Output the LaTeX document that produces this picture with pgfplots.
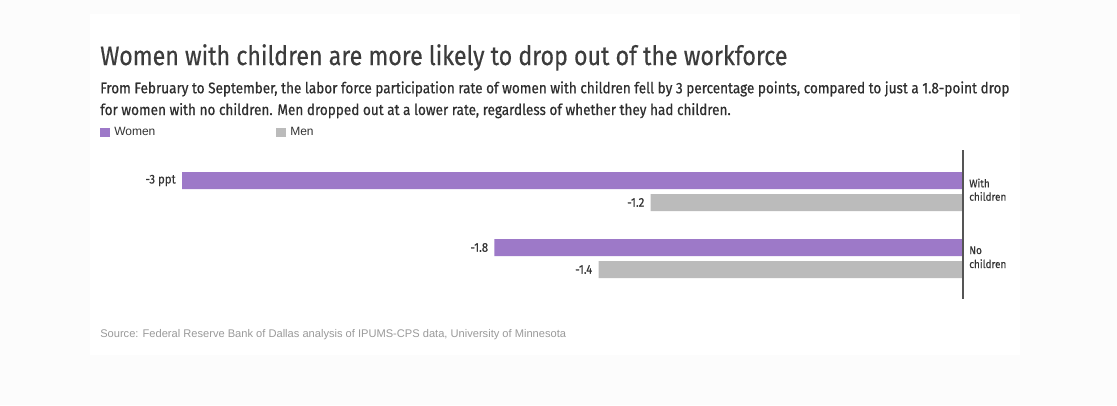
\documentclass[border=0pt]{standalone}
\usepackage{pgfplots}
\pgfplotsset{compat=1.18}
\usepackage{fontspec}
\setmainfont{Liberation Sans}
\newfontfamily\barlow{Fira Sans}
\newfontfamily\barlowc{Fira Sans}[FakeStretch=0.87, FakeBold=0.4]
\newfontfamily\barlowm{Fira Sans}[FakeStretch=0.884, FakeBold=0.5]
\newfontfamily\barlowv{Fira Sans}[FakeStretch=0.9, FakeBold=0.3]
\definecolor{purp}{HTML}{9D79C8}
\definecolor{mgray}{HTML}{BBBBBB}
\definecolor{bgc}{HTML}{FCFCFC}
\definecolor{titlec}{HTML}{3C3C3C}
\definecolor{subc}{HTML}{2E2E2E}
\definecolor{labc}{HTML}{333333}
\definecolor{srcc}{HTML}{9A9A9A}
\definecolor{axc}{HTML}{555555}

\begin{document}
\begin{tikzpicture}
\begin{scope}[x=0.75pt,y=-0.75pt]
\fill[bgc] (0,0) rectangle (1117,405);
\fill[white] (90,14) rectangle (1020,355);
% title and subtitle
\node[anchor=base west, inner sep=0pt, text=titlec, font=\barlowc\fontsize{20}{24}\selectfont] at (100,65) {Women with children are more likely to drop out of the workforce};
\node[anchor=base west, inner sep=0pt, text=subc, font=\barlowm\fontsize{11.5}{14}\selectfont] at (100,93.3) {From February to September, the labor force participation rate of women with children fell by 3 percentage points, compared to just a 1.8-point drop};
\node[anchor=base west, inner sep=0pt, text=subc, font=\barlowm\fontsize{11.5}{14}\selectfont] at (100,115) {for women with no children. Men dropped out at a lower rate, regardless of whether they had children.};
% legend
\fill[purp] (100,127.5) rectangle (110,136.5);
\node[anchor=base west, inner sep=0pt, text=labc, font=\fontsize{9}{11}\selectfont] at (114,135.7) {Women};
\fill[mgray] (276,127.5) rectangle (286,136.5);
\node[anchor=base west, inner sep=0pt, text=labc, font=\fontsize{9}{11}\selectfont] at (290,135.7) {Men};
% category labels
\node[anchor=base west, inner sep=0pt, text=labc, font=\barlowv\fontsize{8.3}{10}\selectfont] at (969,187.3) {With};
\node[anchor=base west, inner sep=0pt, text=labc, font=\barlowv\fontsize{8.3}{10}\selectfont] at (969,200.7) {children};
\node[anchor=base west, inner sep=0pt, text=labc, font=\barlowv\fontsize{8.3}{10}\selectfont] at (969,254) {No};
\node[anchor=base west, inner sep=0pt, text=labc, font=\barlowv\fontsize{8.3}{10}\selectfont] at (969,268) {children};
% source
\node[anchor=base west, inner sep=0pt, text=srcc, font=\fontsize{8.33}{10}\selectfont] at (100,337.5) {Source: Federal Reserve Bank of Dallas analysis of IPUMS-CPS data, University of Minnesota};
\end{scope}

\begin{axis}[
    at={(136.5pt,-112.5pt)}, anchor=north west,
    scale only axis, width=585.75pt, height=111.75pt,
    xmin=-3, xmax=0, ymin=150, ymax=299, y dir=reverse,
    axis lines=none, ticks=none, clip=false,
    xbar, bar width=12.75pt, bar shift=0pt,
    nodes near coords, point meta=explicit symbolic,
    nodes near coords align={anchor=east},
    every node near coord/.append style={font=\barlowv\fontsize{9.5}{11}\selectfont, text=labc, inner sep=0pt, xshift=-4.5pt},
]
\addplot[fill=purp, draw=none] coordinates {(-3,180.5) [-3 ppt] (-1.8,247.5) [-1.8]};
\addplot[fill=mgray, draw=none] coordinates {(-1.2,202.5) [-1.2] (-1.4,269.5) [-1.4]};
\draw[color=axc, line width=1.1pt] (axis cs:0,150) -- (axis cs:0,299);
\end{axis}
\end{tikzpicture}
\end{document}
